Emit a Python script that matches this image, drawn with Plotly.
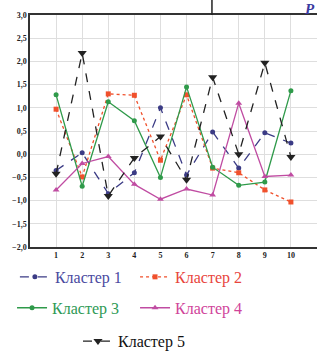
import plotly.graph_objects as go

x_vals = [1, 2, 3, 4, 5, 6, 7, 8, 9, 10]
cluster1 = [-0.35, 0.03, -0.85, -0.40, 1.00, -0.45, 0.48, -0.30, 0.46, 0.24]
cluster2 = [0.97, -0.49, 1.30, 1.27, -0.13, 1.28, -0.30, -0.40, -0.77, -1.03]
cluster3 = [1.28, -0.69, 1.13, 0.72, -0.50, 1.45, -0.28, -0.67, -0.60, 1.37]
cluster4 = [-0.77, -0.20, -0.05, -0.65, -0.97, -0.75, -0.88, 1.10, -0.48, -0.45]
cluster5 = [-0.42, 2.18, -0.90, -0.08, 0.38, -0.55, 1.66, 0.00, 1.97, -0.06]
names = ["Кластер 1", "Кластер 2", "Кластер 3", "Кластер 4", "Кластер 5"]
y_ticks = [-2.0, -1.5, -1.0, -0.5, 0.0, 0.5, 1.0, 1.5, 2.0, 2.5, 3.0]

series = [cluster1, cluster2, cluster3, cluster4, cluster5]
line_colors = ["#3b3b85", "#f0502c", "#2f9a4a", "#c04ca2", "#222222"]
text_colors = ["#4a4aa0", "#e8453c", "#2e9a55", "#d0449a", "#111111"]
dashes = ["dash", "dot", "solid", "solid", "dash"]
symbols = ["circle", "square", "circle", "triangle-up", "triangle-down"]
msizes = [5, 5, 5, 6, 8]
legends = ["legend", "legend2", "legend3", "legend4", "legend5"]

fig = go.Figure()
for i in range(5):
    fig.add_trace(go.Scatter(
        x=x_vals, y=series[i], name=names[i], mode="lines+markers",
        line=dict(color=line_colors[i], dash=dashes[i], width=1.3),
        marker=dict(symbol=symbols[i], size=msizes[i], color=line_colors[i]),
        legend=legends[i],
    ))

leg_pos = [(0.047, 0.211), (0.426, 0.211), (0.038, 0.123), (0.426, 0.123), (0.246, 0.028)]
leg_common = dict(orientation="h", yanchor="middle", xanchor="left",
                  xref="container", yref="container",
                  bgcolor="rgba(0,0,0,0)", itemwidth=30)
layout_legends = {}
for i in range(5):
    d = dict(leg_common)
    d.update(x=leg_pos[i][0], y=leg_pos[i][1],
             font=dict(family="Liberation Serif", size=16, color=text_colors[i]))
    layout_legends[legends[i]] = d

tickfont = dict(family="Liberation Serif", size=8, color="#222222", weight="bold")
fig.update_layout(
    width=317, height=351,
    margin=dict(l=30, r=0, t=15, b=104, autoexpand=False),
    paper_bgcolor="white", plot_bgcolor="white",
    separators=", ",
    showlegend=True,
    xaxis=dict(range=[0, 11], tickvals=x_vals, showgrid=True, gridcolor="#dedede",
               gridwidth=1, zeroline=False, showline=True, linecolor="#333333",
               linewidth=1.5, mirror=True, automargin=False, tickfont=tickfont),
    yaxis=dict(range=[-2, 3], tickvals=y_ticks, tickformat=".1f", showgrid=True,
               gridcolor="#dedede", gridwidth=1, zeroline=False, showline=True,
               linecolor="#333333", linewidth=1.5, mirror=True, automargin=False,
               tickfont=tickfont),
    **layout_legends,
)

fig.add_shape(type="line", xref="paper", yref="paper", x0=0.634, x1=0.634,
              y0=1.0, y1=1.07, line=dict(color="#222222", width=1.5))
fig.add_annotation(text="<b><i>Р</i></b>", xref="paper", yref="paper",
                   x=0.951, y=1.068, xanchor="left", yanchor="top", showarrow=False,
                   font=dict(family="Liberation Serif", size=15, color="#3a3aa0"))

fig.write_html("out.html", config={"displayModeBar": False},
               post_script="document.body.style.margin='0';document.body.style.overflow='hidden';")
